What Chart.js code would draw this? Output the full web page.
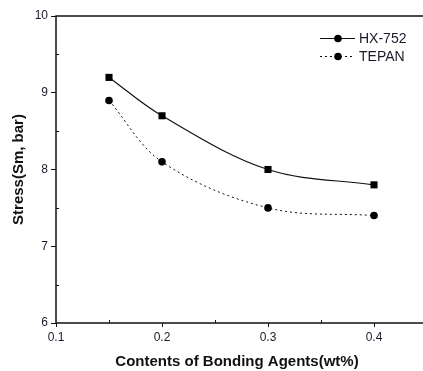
<!DOCTYPE html>
<html><head><meta charset="utf-8">
<script src="https://cdn.jsdelivr.net/npm/chart.js@4"></script>
<style>html,body{margin:0;padding:0;background:#fff;}#c{display:block;}</style>
</head><body>
<canvas id="c" width="423" height="371"></canvas>
<script>
const contents = [0.15, 0.2, 0.3, 0.4];
const hx752 = [9.2, 8.7, 8.0, 7.8];
const tepan = [8.9, 8.1, 7.5, 7.4];
const xTicks = [0.1, 0.2, 0.3, 0.4];
const yTicks = [6, 7, 8, 9, 10];
const xMinor = [0.15, 0.25, 0.35];
const yMinor = [6.5, 7.5, 8.5, 9.5];
const seriesNames = ['HX-752', 'TEPAN'];

const FONT = '"Liberation Sans", Arial, sans-serif';

const framePlugin = {
  id: 'frame',
  afterDraw(chart) {
    const ctx = chart.ctx, a = chart.chartArea;
    const xs = chart.scales.x, ys = chart.scales.y;
    ctx.save();
    ctx.strokeStyle = '#111';
    ctx.lineWidth = 1.5;
    ctx.beginPath();
    ctx.moveTo(a.left, a.bottom); ctx.lineTo(a.left, a.top); ctx.lineTo(423, a.top);
    ctx.moveTo(a.left, a.bottom); ctx.lineTo(423, a.bottom);
    ctx.stroke();
    ctx.lineWidth = 1;
    ctx.beginPath();
    xMinor.forEach(v => { const px = Math.round(xs.getPixelForValue(v)) + 0.5; ctx.moveTo(px, a.bottom); ctx.lineTo(px, a.bottom - 3); });
    yMinor.forEach(v => { const py = Math.round(ys.getPixelForValue(v)) + 0.5; ctx.moveTo(a.left, py); ctx.lineTo(a.left + 3, py); });
    ctx.stroke();
    // legend
    const ds = chart.data.datasets;
    const rows = [38, 56];
    ds.forEach((d, i) => {
      const y = rows[i];
      ctx.strokeStyle = '#111';
      ctx.lineWidth = 1;
      ctx.setLineDash(d.borderDash || []);
      ctx.beginPath(); ctx.moveTo(320, y + 0.5); ctx.lineTo(355, y + 0.5); ctx.stroke();
      ctx.setLineDash([]);
      ctx.fillStyle = '#000';
      ctx.beginPath(); ctx.arc(338, y + 0.5, 3.8, 0, Math.PI * 2); ctx.fill();
      ctx.fillStyle = '#1a1a2a';
      ctx.font = '14px ' + FONT;
      ctx.textBaseline = 'middle';
      ctx.textAlign = 'left';
      ctx.fillText(d.label, 359, y + 1);
    });
    ctx.restore();
  }
};

new Chart(document.getElementById('c'), {
  type: 'line',
  data: {
    datasets: [
      { label: seriesNames[0], data: contents.map((x, i) => ({x, y: hx752[i]})),
        borderColor: '#111', borderWidth: 1.2, backgroundColor: '#000',
        pointStyle: 'rect', pointRadius: 5, pointBorderWidth: 0,
        tension: 0.35, fill: false },
      { label: seriesNames[1], data: contents.map((x, i) => ({x, y: tepan[i]})),
        borderColor: '#111', borderWidth: 1, borderDash: [2, 3], backgroundColor: '#000',
        pointStyle: 'circle', pointRadius: 3.8, pointBorderWidth: 0,
        tension: 0.35, fill: false }
    ]
  },
  options: {
    responsive: false,
    animation: false,
    layout: { padding: { top: 16, right: 0, left: 0, bottom: 0 } },
    plugins: { legend: { display: false }, tooltip: { enabled: false } },
    scales: {
      x: {
        type: 'linear', min: 0.1, max: 0.4415,
        afterBuildTicks(s) { s.ticks = xTicks.map(v => ({value: v})); },
        afterFit(s) { s.height = 48; },
        border: { display: false },
        grid: { drawOnChartArea: false, tickLength: 4, color: '#111', lineWidth: 1 },
        ticks: { padding: 3, color: '#1a1a2a', font: { family: FONT, size: 12 }, callback: v => v.toFixed(1), maxRotation: 0 },
        title: { display: true, text: 'Contents of Bonding Agents(wt%)', color: '#111',
          font: { family: FONT, size: 15, weight: 'bold' }, padding: { top: 4, bottom: 0 } }
      },
      y: {
        min: 6, max: 10,
        afterBuildTicks(s) { s.ticks = yTicks.map(v => ({value: v})); },
        afterFit(s) { s.width = 56; },
        border: { display: false },
        grid: { drawOnChartArea: false, tickLength: 5, color: '#111', lineWidth: 1 },
        ticks: { padding: 3, color: '#1a1a2a', font: { family: FONT, size: 12 } },
        title: { display: true, text: 'Stress(Sm, bar)', color: '#111',
          font: { family: FONT, size: 15, weight: 'bold' }, padding: { top: 10, bottom: 0 } }
      }
    }
  },
  plugins: [framePlugin]
});
</script>
</body></html>
